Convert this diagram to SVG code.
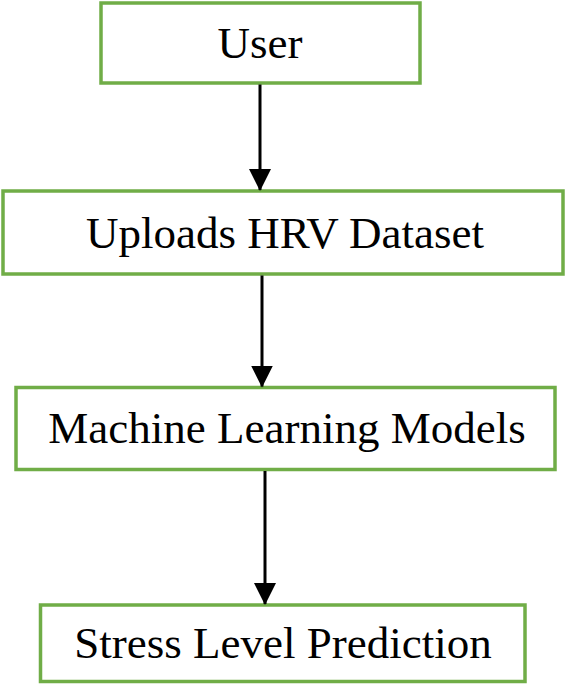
<svg xmlns="http://www.w3.org/2000/svg" width="567" height="685" viewBox="0 0 567 685">
<style>
.box{fill:#fff;stroke:#70AD47;stroke-width:3.5}
.lbl{font-family:"Liberation Serif","Times New Roman",serif;font-size:45px;fill:#000;text-anchor:middle}
.conn{stroke:#000;stroke-width:3;fill:none}
</style>
<defs>
<marker id="ah" markerUnits="userSpaceOnUse" markerWidth="22" markerHeight="22" refX="21" refY="11" orient="auto">
<path d="M0,0 L22,11 L0,22 Z" fill="#000"/>
</marker>
</defs>
<rect width="567" height="685" fill="#fff"/>
<g id="user"><rect class="box" x="101" y="3" width="319" height="80"/><text class="lbl" x="260" y="58">User</text></g>
<g id="upload"><rect class="box" x="3" y="191" width="560" height="83"/><text class="lbl" x="285" y="248">Uploads HRV Dataset</text></g>
<g id="ml"><rect class="box" x="16" y="387.5" width="539" height="82"/><text class="lbl" x="287" y="443">Machine Learning Models</text></g>
<g id="predict"><rect class="box" x="40.5" y="605" width="484.5" height="76.5"/><text class="lbl" x="283" y="658">Stress Level Prediction</text></g>
<g id="connectors">
<line class="conn" x1="260" y1="84.5" x2="260" y2="190" marker-end="url(#ah)"/>
<line class="conn" x1="262" y1="275.5" x2="262" y2="386.5" marker-end="url(#ah)"/>
<line class="conn" x1="265" y1="471" x2="265" y2="604" marker-end="url(#ah)"/>
</g>
</svg>
